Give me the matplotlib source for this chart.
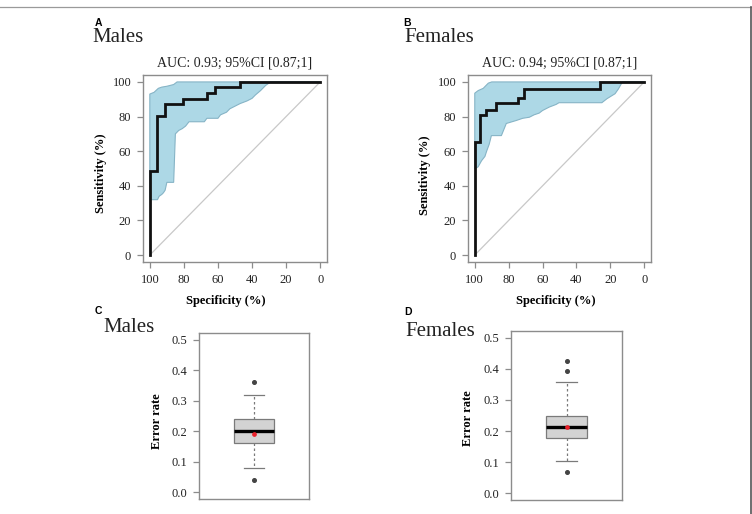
import matplotlib
matplotlib.use("Agg")
import matplotlib.pyplot as plt
from matplotlib.lines import Line2D

# ---------------- data ----------------
ticks_roc = [100, 80, 60, 40, 20, 0]
ticks_err = [0.0, 0.1, 0.2, 0.3, 0.4, 0.5]

males_roc_spec = [100, 100, 95.5, 95.5, 91, 91, 80.8, 80.8, 66.5, 66.5, 61.8, 61.8, 47.2, 47.2, 0]
males_roc_sens = [0, 48.4, 48.4, 80.6, 80.6, 87.1, 87.1, 90.3, 90.3, 93.5, 93.5, 96.8, 96.8, 100, 100]
males_ci_up_spec = [100, 97.5, 95, 93, 90, 86, 84, 0]
males_ci_up_sens = [93, 94, 96.3, 97, 97.5, 98.5, 100, 100]
males_ci_lo_spec = [100, 95.5, 94.5, 93, 92, 91, 90, 86, 85, 83, 81, 79, 77, 68, 66.5, 60, 58.5,
                    55, 53, 50, 47, 43, 40, 38, 35, 32, 29, 0]
males_ci_lo_sens = [32, 32, 34, 35, 36, 37.5, 42, 42, 70, 72, 73, 74.5, 77, 77, 79, 79, 81,
                    82.5, 84.5, 86, 87.5, 89, 90.5, 92.5, 95, 98, 100, 100]

females_roc_spec = [100, 100, 97, 97, 93.4, 93.4, 87.3, 87.3, 74.6, 74.6, 70.7, 70.7, 25.9, 25.9, 0]
females_roc_sens = [0, 65.1, 65.1, 81, 81, 83.9, 83.9, 87.9, 87.9, 90.8, 90.8, 95.7, 95.7, 100, 100]
females_ci_up_spec = [100, 98, 95, 92, 90, 0]
females_ci_up_sens = [93.5, 95, 96.3, 99.3, 100, 100]
females_ci_lo_spec = [100, 98, 96, 94, 93, 91.5, 90.2, 84.3, 81.4, 78, 75.6, 71.7, 67.8, 65, 62, 60,
                      56, 52, 50.3, 25, 22, 17.2, 15.2, 13.3, 12.5, 0]
females_ci_lo_sens = [49.7, 51, 54.5, 57, 60, 64, 69, 69, 76, 77, 77.7, 79, 79.6, 81, 82, 83.5,
                      85.5, 87, 88, 88, 90.3, 93.2, 96, 99.3, 100, 100]

males_auc_title = "AUC: 0.93; 95%CI [0.87;1]"
females_auc_title = "AUC: 0.94; 95%CI [0.87;1]"

males_box = dict(q1=0.16, med=0.20, q3=0.24, whislo=0.08, whishi=0.32,
                 fliers=[0.36, 0.04], mean=0.19)
females_box = dict(q1=0.177, med=0.214, q3=0.248, whislo=0.105, whishi=0.357,
                   fliers=[0.426, 0.392, 0.069], mean=0.212)

# ---------------- layout ----------------
W, H = 752, 514
fig = plt.figure(figsize=(W / 100, H / 100), dpi=100)
fig.patch.set_facecolor("white")

SERIF = ["Liberation Serif", "DejaVu Serif"]
SANS = ["Liberation Sans", "DejaVu Sans"]
GRAY = "#8c8c8c"


def fx(px):
    return px / W


def fy(py):
    return 1 - py / H


def add_ax(x0, y0, x1, y1):
    return fig.add_axes([fx(x0), fy(y1), (x1 - x0) / W, (y1 - y0) / H])


def style_ax(ax):
    for s in ax.spines.values():
        s.set_color(GRAY)
        s.set_linewidth(1.0)
    ax.tick_params(color=GRAY, length=4.5, width=0.9, pad=4, labelsize=9,
                   labelcolor="#222222")
    for lab in ax.get_xticklabels() + ax.get_yticklabels():
        lab.set_family(SERIF)


def roc_panel(ax, spec, sens, up_s, up_v, lo_s, lo_v, title, xlab_pos, ylab_xy):
    poly_x = list(up_s) + list(lo_s)[::-1]
    poly_y = list(up_v) + list(lo_v)[::-1]
    ax.fill(poly_x, poly_y, facecolor="#ADD8E6", edgecolor="#86b4c6", linewidth=0.8, zorder=1)
    ax.plot([100, 0], [0, 100], color="#c8c8c8", linewidth=0.9, zorder=2)
    ax.plot(spec, sens, color="#111111", linewidth=2.0, zorder=3,
            solid_joinstyle="miter")
    ax.set_xlim(104, -4)
    ax.set_ylim(-4, 104)
    ax.set_xticks(ticks_roc)
    ax.set_yticks(ticks_roc)
    ax.set_xticklabels([str(t) for t in ticks_roc])
    ax.set_yticklabels([str(t) for t in ticks_roc])
    style_ax(ax)
    ax.set_title(title, family=SERIF, fontsize=10, pad=6, color="#222222")
    ax.set_xlabel("Specificity (%)", family=SERIF, fontweight="bold", fontsize=9)
    ax.set_ylabel("Sensitivity (%)", family=SERIF, fontweight="bold", fontsize=9)
    ax.xaxis.set_label_coords(xlab_pos, -0.175)
    ax.yaxis.set_label_coords(*ylab_xy)


def box_panel(ax, st, ylab_xy):
    stats = [dict(med=st["med"], q1=st["q1"], q3=st["q3"], whislo=st["whislo"],
                  whishi=st["whishi"], fliers=st["fliers"], mean=st["mean"])]
    ax.bxp(stats, positions=[1], widths=0.4, showmeans=True, patch_artist=True,
           boxprops=dict(facecolor="#d3d3d3", edgecolor="#7a7a7a", linewidth=0.9),
           medianprops=dict(color="black", linewidth=2.4),
           whiskerprops=dict(color="#7a7a7a", linestyle=(0, (2, 2)), linewidth=0.9),
           capprops=dict(color="#7a7a7a", linewidth=0.9),
           capwidths=0.2,
           flierprops=dict(marker="o", markersize=2.6, markerfacecolor="#444444",
                           markeredgecolor="#444444"),
           meanprops=dict(marker="o", markersize=2.4, markerfacecolor="#e8202a",
                          markeredgecolor="#e8202a"))
    ax.set_xlim(0.46, 1.54)
    ax.set_ylim(-0.022, 0.522)
    ax.set_xticks([])
    ax.set_yticks(ticks_err)
    ax.set_yticklabels([f"{t:.1f}" for t in ticks_err])
    style_ax(ax)
    ax.set_ylabel("Error rate", family=SERIF, fontweight="bold", fontsize=9)
    ax.yaxis.set_label_coords(*ylab_xy)


# Panel A
axA = add_ax(143, 75, 327, 262)
roc_panel(axA, males_roc_spec, males_roc_sens, males_ci_up_spec, males_ci_up_sens,
          males_ci_lo_spec, males_ci_lo_sens, males_auc_title, 0.45, (-0.198, 0.476))
# Panel B
axB = add_ax(468, 75, 651, 262)
roc_panel(axB, females_roc_spec, females_roc_sens, females_ci_up_spec, females_ci_up_sens,
          females_ci_lo_spec, females_ci_lo_sens, females_auc_title, 0.478, (-0.2, 0.465))
# Panel C
axC = add_ax(199, 333, 309, 499)
box_panel(axC, males_box, (-0.327, 0.47))
# Panel D
axD = add_ax(511, 331, 622, 500)
box_panel(axD, females_box, (-0.333, 0.485))

# Panel letters and titles
for letter, px, py in [("A", 98, 23), ("B", 407, 23), ("C", 98, 311), ("D", 408, 312)]:
    fig.text(fx(px), fy(py), letter, family=SANS, fontweight="bold", fontsize=7.5,
             ha="center", va="center")
for name, px, py in [("Males", 92, 38), ("Females", 404, 38), ("Males", 103, 327),
                     ("Females", 405, 332)]:
    fig.text(fx(px), fy(py), name, family=SERIF, fontsize=15, ha="left", va="center",
             color="#222222")

# outer frame lines (top and right)
fig.add_artist(Line2D([0, 1], [fy(7), fy(7)], transform=fig.transFigure,
                      color="#9a9a9a", linewidth=0.9))
fig.add_artist(Line2D([fx(751), fx(751)], [0, fy(7)], transform=fig.transFigure,
                      color="#555555", linewidth=1.2))

fig.savefig("out.png", dpi=100, facecolor="white")
